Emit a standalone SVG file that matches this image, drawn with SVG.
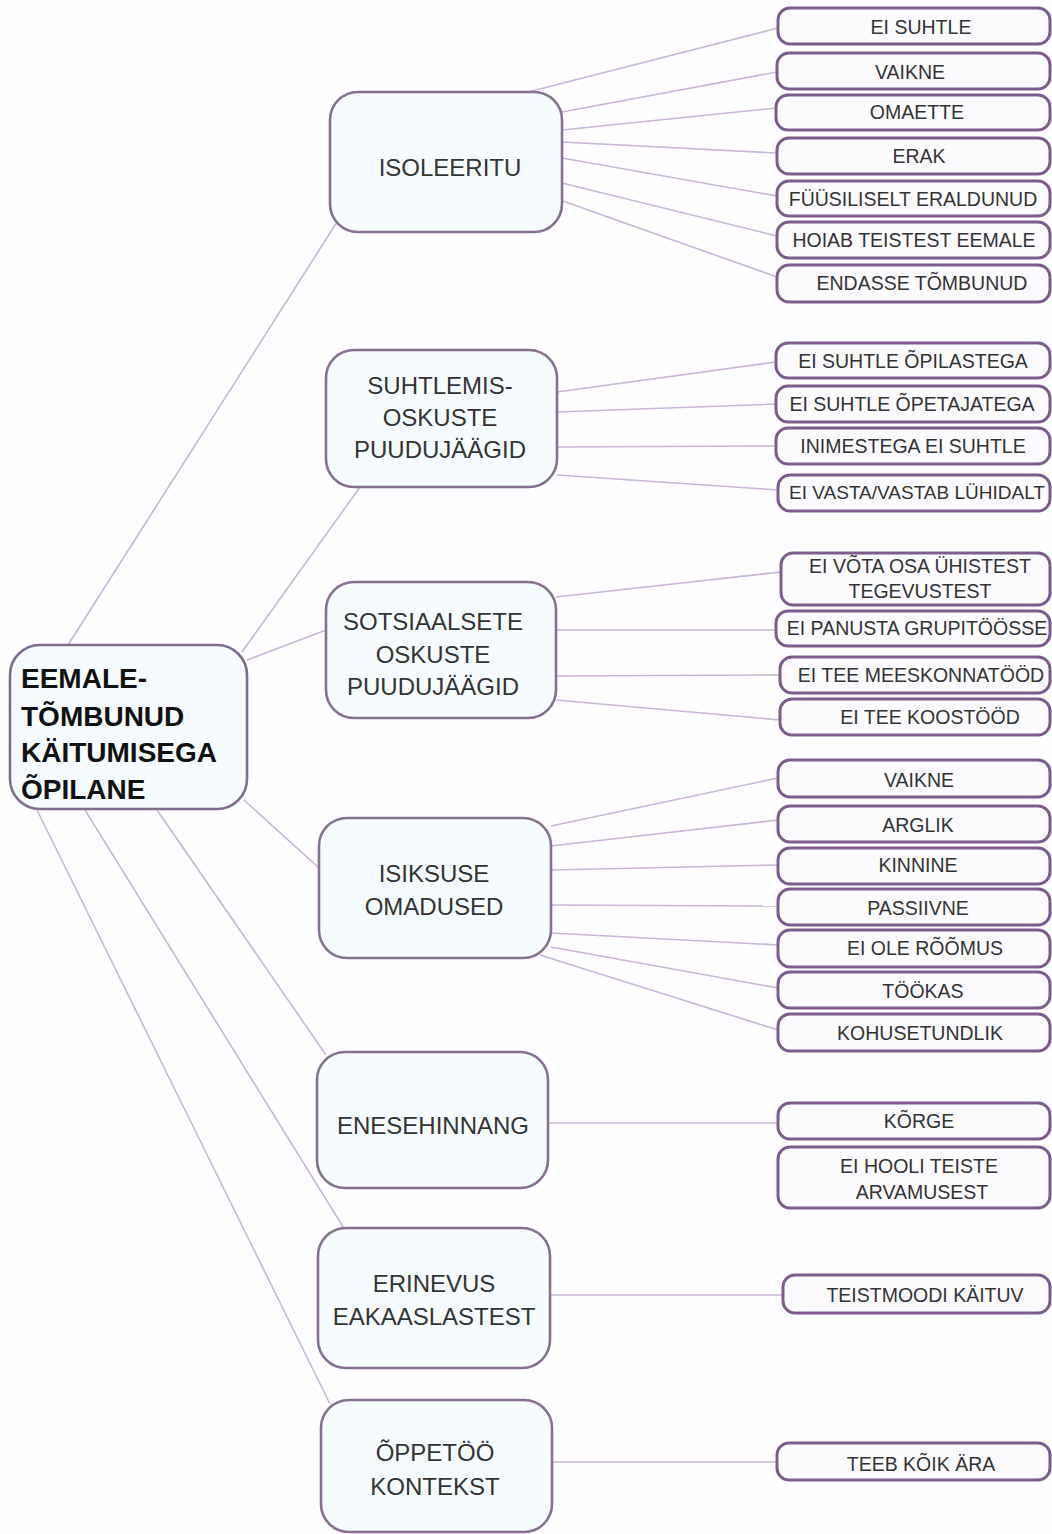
<svg xmlns="http://www.w3.org/2000/svg" width="1052" height="1534" viewBox="0 0 1052 1534">
<style>
.bg{fill:#fefdff}
.edge{stroke:#c9b5d8;stroke-width:1.6;fill:none}
.root rect{fill:#f6fbfd;stroke:#7f6d8c;stroke-width:2.6}
.cat rect{fill:#f6fbfd;stroke:#85718f;stroke-width:2.6}
.leaf rect{fill:#fbfbfe;stroke:#7c5c8c;stroke-width:3}
.rt{font-family:"Liberation Sans",Arial,sans-serif;font-weight:bold;font-size:28px;fill:#111}
.ct{font-family:"Liberation Sans",Arial,sans-serif;font-size:24px;fill:#333;text-anchor:middle}
.lt{font-family:"Liberation Sans",Arial,sans-serif;font-size:19.5px;fill:#333;text-anchor:middle}
</style>
<rect class="bg" x="0" y="0" width="1052" height="1534"/>
<g id="connectors">
<line class="edge" x1="68" y1="645" x2="337" y2="222"/>
<line class="edge" x1="242" y1="652" x2="360" y2="487"/>
<line class="edge" x1="247" y1="660" x2="326" y2="630"/>
<line class="edge" x1="244" y1="800" x2="319" y2="868"/>
<line class="edge" x1="157" y1="810" x2="326" y2="1055"/>
<line class="edge" x1="85" y1="810" x2="345" y2="1230"/>
<line class="edge" x1="37" y1="810" x2="330" y2="1404"/>
<line class="edge" x1="528" y1="92" x2="778" y2="28"/>
<line class="edge" x1="562" y1="112" x2="777" y2="72"/>
<line class="edge" x1="562" y1="130" x2="776" y2="108"/>
<line class="edge" x1="562" y1="142" x2="777" y2="153"/>
<line class="edge" x1="562" y1="158" x2="777" y2="196"/>
<line class="edge" x1="562" y1="183" x2="777" y2="236"/>
<line class="edge" x1="560" y1="200" x2="777" y2="277"/>
<line class="edge" x1="557" y1="392" x2="776" y2="362"/>
<line class="edge" x1="557" y1="412" x2="776" y2="404"/>
<line class="edge" x1="557" y1="447" x2="776" y2="446"/>
<line class="edge" x1="557" y1="475" x2="778" y2="490"/>
<line class="edge" x1="556" y1="597" x2="781" y2="572"/>
<line class="edge" x1="556" y1="630" x2="776" y2="630"/>
<line class="edge" x1="556" y1="676" x2="780" y2="675"/>
<line class="edge" x1="556" y1="700" x2="780" y2="720"/>
<line class="edge" x1="551" y1="826" x2="778" y2="778"/>
<line class="edge" x1="551" y1="846" x2="778" y2="820"/>
<line class="edge" x1="551" y1="870" x2="778" y2="865"/>
<line class="edge" x1="551" y1="905" x2="778" y2="906"/>
<line class="edge" x1="551" y1="933" x2="778" y2="945"/>
<line class="edge" x1="551" y1="947" x2="778" y2="988"/>
<line class="edge" x1="540" y1="955" x2="778" y2="1030"/>
<line class="edge" x1="548" y1="1123" x2="778" y2="1123"/>
<line class="edge" x1="550" y1="1295" x2="783" y2="1295"/>
<line class="edge" x1="552" y1="1462" x2="777" y2="1462"/>
</g>
<g id="root" class="root">
<rect x="10" y="645" width="237" height="164" rx="30"/>
<text class="rt" x="21" y="688">EEMALE-</text>
<text class="rt" x="21" y="726">TÕMBUNUD</text>
<text class="rt" x="21" y="762">KÄITUMISEGA</text>
<text class="rt" x="21" y="799">ÕPILANE</text>
</g>
<g id="cat-isoleeritu" class="cat">
<rect x="330" y="92" width="232" height="140" rx="28"/>
<text class="ct" x="450" y="176">ISOLEERITU</text>
</g>
<g id="cat-suhtlemis" class="cat">
<rect x="326" y="350" width="231" height="137" rx="28"/>
<text class="ct" x="440" y="394">SUHTLEMIS-</text>
<text class="ct" x="440" y="426">OSKUSTE</text>
<text class="ct" x="440" y="458">PUUDUJÄÄGID</text>
</g>
<g id="cat-sotsiaalsete" class="cat">
<rect x="326" y="582" width="230" height="136" rx="28"/>
<text class="ct" x="433" y="630">SOTSIAALSETE</text>
<text class="ct" x="433" y="663">OSKUSTE</text>
<text class="ct" x="433" y="695">PUUDUJÄÄGID</text>
</g>
<g id="cat-isiksuse" class="cat">
<rect x="319" y="818" width="232" height="140" rx="28"/>
<text class="ct" x="434" y="882">ISIKSUSE</text>
<text class="ct" x="434" y="915">OMADUSED</text>
</g>
<g id="cat-enesehinnang" class="cat">
<rect x="317" y="1052" width="231" height="136" rx="28"/>
<text class="ct" x="433" y="1134">ENESEHINNANG</text>
</g>
<g id="cat-erinevus" class="cat">
<rect x="318" y="1228" width="232" height="140" rx="28"/>
<text class="ct" x="434" y="1292">ERINEVUS</text>
<text class="ct" x="434" y="1325">EAKAASLASTEST</text>
</g>
<g id="cat-oppetoo" class="cat">
<rect x="321" y="1400" width="231" height="132" rx="28"/>
<text class="ct" x="435" y="1461">ÕPPETÖÖ</text>
<text class="ct" x="435" y="1495">KONTEKST</text>
</g>
<g id="leaf-ei-suhtle" class="leaf"><rect x="778" y="8" width="272" height="36" rx="12"/><text class="lt" x="921" y="34">EI SUHTLE</text></g>
<g id="leaf-vaikne1" class="leaf"><rect x="777" y="53" width="273" height="36" rx="12"/><text class="lt" x="910" y="79">VAIKNE</text></g>
<g id="leaf-omaette" class="leaf"><rect x="776" y="95" width="274" height="35" rx="12"/><text class="lt" x="917" y="119">OMAETTE</text></g>
<g id="leaf-erak" class="leaf"><rect x="777" y="138" width="273" height="36" rx="12"/><text class="lt" x="919" y="163">ERAK</text></g>
<g id="leaf-fyysiliselt" class="leaf"><rect x="777" y="181" width="273" height="35" rx="12"/><text class="lt" x="913" y="206">FÜÜSILISELT ERALDUNUD</text></g>
<g id="leaf-hoiab" class="leaf"><rect x="777" y="222" width="273" height="36" rx="12"/><text class="lt" x="914" y="247">HOIAB TEISTEST EEMALE</text></g>
<g id="leaf-endasse" class="leaf"><rect x="777" y="265" width="273" height="37" rx="12"/><text class="lt" x="922" y="290">ENDASSE TÕMBUNUD</text></g>
<g id="leaf-ei-suhtle-opilastega" class="leaf"><rect x="776" y="343" width="274" height="35" rx="12"/><text class="lt" x="913" y="368">EI SUHTLE ÕPILASTEGA</text></g>
<g id="leaf-ei-suhtle-opetajatega" class="leaf"><rect x="776" y="386" width="274" height="36" rx="12"/><text class="lt" x="912" y="411">EI SUHTLE ÕPETAJATEGA</text></g>
<g id="leaf-inimestega" class="leaf"><rect x="776" y="428" width="274" height="36" rx="12"/><text class="lt" x="913" y="453">INIMESTEGA EI SUHTLE</text></g>
<g id="leaf-ei-vasta" class="leaf"><rect x="778" y="475" width="272" height="36" rx="12"/><text class="lt" x="917" y="499" style="font-size:19px">EI VASTA/VASTAB LÜHIDALT</text></g>
<g id="leaf-ei-vota" class="leaf"><rect x="781" y="553" width="269" height="52" rx="12"/><text class="lt" x="920" y="573">EI VÕTA OSA ÜHISTEST</text><text class="lt" x="920" y="598">TEGEVUSTEST</text></g>
<g id="leaf-ei-panusta" class="leaf"><rect x="776" y="611" width="274" height="35" rx="12"/><text class="lt" x="917" y="635">EI PANUSTA GRUPITÖÖSSE</text></g>
<g id="leaf-meeskonnatood" class="leaf"><rect x="780" y="657" width="270" height="36" rx="12"/><text class="lt" x="921" y="682">EI TEE MEESKONNATÖÖD</text></g>
<g id="leaf-koostood" class="leaf"><rect x="780" y="699" width="270" height="36" rx="12"/><text class="lt" x="930" y="724">EI TEE KOOSTÖÖD</text></g>
<g id="leaf-vaikne2" class="leaf"><rect x="778" y="760" width="272" height="37" rx="12"/><text class="lt" x="919" y="787">VAIKNE</text></g>
<g id="leaf-arglik" class="leaf"><rect x="778" y="806" width="272" height="36" rx="12"/><text class="lt" x="918" y="832">ARGLIK</text></g>
<g id="leaf-kinnine" class="leaf"><rect x="778" y="848" width="272" height="36" rx="12"/><text class="lt" x="918" y="872">KINNINE</text></g>
<g id="leaf-passiivne" class="leaf"><rect x="778" y="889" width="272" height="36" rx="12"/><text class="lt" x="918" y="915">PASSIIVNE</text></g>
<g id="leaf-ei-ole-roomus" class="leaf"><rect x="778" y="930" width="272" height="37" rx="12"/><text class="lt" x="925" y="955">EI OLE RÕÕMUS</text></g>
<g id="leaf-tookas" class="leaf"><rect x="778" y="972" width="272" height="36" rx="12"/><text class="lt" x="923" y="998">TÖÖKAS</text></g>
<g id="leaf-kohusetundlik" class="leaf"><rect x="778" y="1014" width="272" height="37" rx="12"/><text class="lt" x="920" y="1040">KOHUSETUNDLIK</text></g>
<g id="leaf-korge" class="leaf"><rect x="778" y="1103" width="272" height="36" rx="12"/><text class="lt" x="919" y="1128">KÕRGE</text></g>
<g id="leaf-ei-hooli" class="leaf"><rect x="778" y="1147" width="272" height="61" rx="12"/><text class="lt" x="919" y="1173">EI HOOLI TEISTE</text><text class="lt" x="922" y="1199">ARVAMUSEST</text></g>
<g id="leaf-teistmoodi" class="leaf"><rect x="783" y="1275" width="267" height="38" rx="12"/><text class="lt" x="925" y="1302">TEISTMOODI KÄITUV</text></g>
<g id="leaf-teeb-koik" class="leaf"><rect x="777" y="1443" width="273" height="37" rx="12"/><text class="lt" x="921" y="1471">TEEB KÕIK ÄRA</text></g>
</svg>
